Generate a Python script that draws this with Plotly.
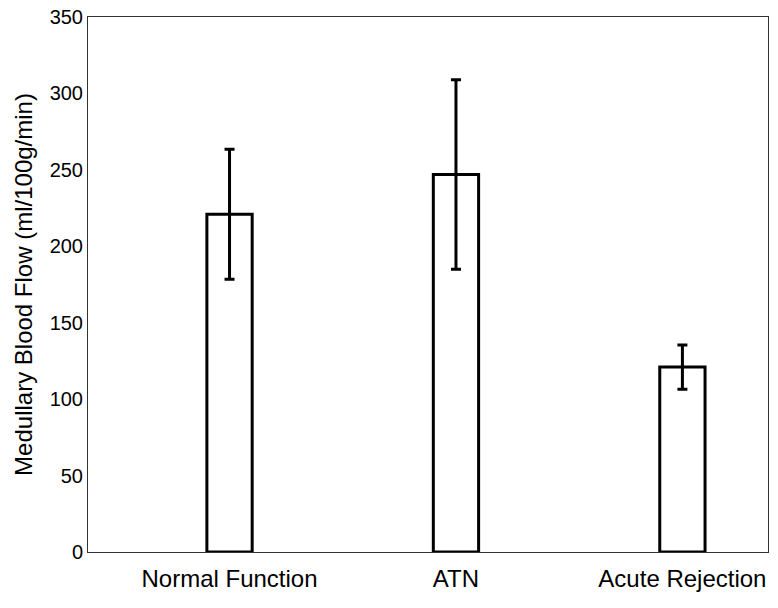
import plotly.graph_objects as go

categories = ["Normal Function", "ATN", "Acute Rejection"]
mean_flow = [221, 247, 121]
err_flow = [42.5, 62, 14.5]
y_ticks = [0, 50, 100, 150, 200, 250, 300, 350]

fig = go.Figure(
    go.Bar(
        x=categories,
        y=mean_flow,
        width=0.2,
        marker={"color": "white", "line": {"color": "black", "width": 3}},
        error_y={"type": "data", "array": err_flow, "color": "black",
                 "thickness": 3, "width": 5},
        showlegend=False,
    )
)

fig.update_layout(
    width=778,
    height=608,
    paper_bgcolor="white",
    plot_bgcolor="white",
    margin={"l": 88, "r": 10, "t": 17, "b": 56, "autoexpand": False},
    font={"family": "Liberation Sans, Arial, sans-serif", "color": "black", "size": 20},
)
fig.update_xaxes(
    type="category",
    range=[-0.625, 2.378],
    automargin=False,
    showline=True, linecolor="#333", linewidth=1, mirror=True,
    showgrid=False, ticks="", tickfont={"size": 24}, ticklabelstandoff=5,
)
fig.update_yaxes(
    range=[0, 350],
    tickvals=y_ticks,
    ticklabeloverflow="allow",
    automargin=False,
    showline=True, linecolor="#333", linewidth=1, mirror=True,
    showgrid=False, zeroline=False, ticks="",
    title={"text": "Medullary Blood Flow (ml/100g/min)", "font": {"size": 24}, "standoff": 10},
)

# drop the default body margin so the figure sits at the window's corner
fig.write_html(
    "out.html",
    config={"displayModeBar": False},
    post_script="document.body.style.margin = '0';",
)
